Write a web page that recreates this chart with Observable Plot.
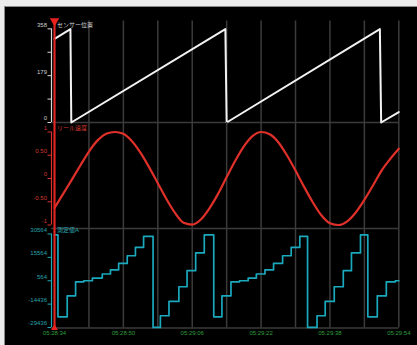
<!DOCTYPE html>
<html><head><meta charset="utf-8">
<script src="https://cdn.jsdelivr.net/npm/d3@7"></script>
<script src="https://cdn.jsdelivr.net/npm/@observablehq/plot@0.6"></script>
<style>
html,body{margin:0;padding:0;background:#ececec;}
#wrap{position:relative;width:417px;height:345px;overflow:hidden;}
#bg{position:absolute;left:4px;top:6px;right:0;bottom:0;background:#000;border-left:1px solid #8a8a8a;border-top:1px solid #8a8a8a;}
#wrap svg{position:absolute;left:0;top:0;}
</style></head><body><div id="wrap"><div id="bg"></div></div>
<script>
// ---- data (seconds from 05:28:34) ----
const gridTimes = [0, 8, 16, 24, 32, 40, 48, 56, 64, 72, 80];
const timeTicks = [0, 16, 32, 48, 64, 80];
const timeLabels = ["05:28:34", "05:28:50", "05:29:06", "05:29:22", "05:29:38", "05:29:54"];

const titles = ["センサー位置", "リール速度", "測定値A"];

// panel 1: sensor position
const sensorT = [0, 3.7, 3.9, 39.7, 40.0, 75.6, 75.9, 80];
const sensorV = [320, 357, 0, 357, 0, 357, 0, 40];
const sensorTicks = [0, 89.5, 179, 268.5, 358];
const sensorTickLabels = ["0", "", "179", "", "358"];

// panel 2: reel speed
const reelT = [0, 2, 4, 6, 8, 10, 12, 14, 16, 18, 20, 22, 24, 26, 28, 30, 32, 34, 36, 38, 40,
  42, 44, 46, 48, 50, 52, 54, 56, 58, 60, 62, 64, 66, 68, 70, 72, 74, 76, 78, 80];
const reelV = [-0.63, -0.33, -0.03, 0.28, 0.58, 0.82, 0.96, 1.0, 0.96, 0.80, 0.55, 0.24, -0.10,
  -0.44, -0.74, -0.95, -0.99, -0.88, -0.64, -0.33, 0.03, 0.38, 0.69, 0.91, 1.0, 0.95, 0.78, 0.50,
  0.17, -0.18, -0.51, -0.79, -0.96, -1.0, -0.92, -0.73, -0.46, -0.15, 0.17, 0.42, 0.64];
const reelTicks = [-1, -0.5, 0, 0.5, 1];
const reelTickLabels = ["-1", "-0.50", "0", "0.50", "1"];

// panel 3: measured value A (step)
const measT = [0, 0.8, 2.95, 4.9, 6.8, 8.8, 11.1, 13.0, 14.9, 16.9, 18.8, 20.7, 22.9, 24.6, 26.6,
  28.9, 30.8, 32.8, 34.8, 37.0, 38.9, 41.0, 43.0, 45.0, 46.9, 48.9, 50.9, 53.0, 55.0, 57.0, 58.8,
  61.0, 62.9, 65.0, 67.1, 69.0, 71.1, 72.8, 75.0, 77.1, 79.2, 80];
const measV = [30000, -22600, -9100, -100, 560, 2300, 4900, 7600, 11700, 16600, 22000, 29000,
  -29400, -21900, -12700, -3300, 7000, 18400, 30000, -22600, -9100, -100, 560, 2300, 4900, 7600,
  11700, 16600, 22000, 29000, -29400, -21900, -12700, -3300, 7000, 18400, 30000, -22600, -9100,
  -100, 560, 560];
const measTicks = [-29436, -14436, 564, 15564, 30564];
const measTickLabels = ["-29436", "-14436", "564", "15564", "30564"];

// ---- build ----
const W = 417, H = 345;
const xDomain = [-0.7, 80];
const gridColor = "#3b3b3b";
const cursorColor = "#e8231f";
const font = "'Liberation Sans','Noto Sans CJK JP',sans-serif";
const zip = (T, V) => T.map((t, i) => ({t, v: V[i]}));

function panel({top, bottom, domain, ticks, tickLabels, color, labelColor, title, marks}) {
  const lab = new Map(ticks.map((d, i) => [d, tickLabels[i]]));
  return Plot.plot({
    width: W, height: H,
    marginLeft: 51, marginRight: 18.7, marginTop: top, marginBottom: H - bottom,
    x: {domain: xDomain, axis: null, label: null},
    y: {domain, axis: null, label: null},
    style: {background: "transparent", overflow: "visible", fontFamily: font, fontSize: "6px"},
    marks: [
      Plot.ruleX(gridTimes, {stroke: gridColor, strokeWidth: 1.5}),
      Plot.ruleY([domain[0]], {stroke: gridColor, strokeWidth: 1.5}),
      ...marks,
      Plot.ruleX([xDomain[0]], {y1: d3.min(ticks), y2: d3.max(ticks), stroke: color, strokeWidth: 1.2}),
      Plot.axisY(ticks, {anchor: "left", label: null, tickSize: 3.5, tickFormat: () => "", stroke: color}),
      Plot.axisY(ticks, {anchor: "left", label: null, tickSize: 0, tickPadding: 4.5, dy: -4, tickFormat: d => lab.get(d), fill: labelColor, fontSize: 6}),
      Plot.ruleX([0], {stroke: cursorColor, strokeWidth: 2}),
      Plot.text([title], {x: () => 0, y: () => d3.max(ticks), text: d => d, textAnchor: "start", dx: 2.5, dy: -4, fill: labelColor, fontSize: 6})
    ]
  });
}

const wrap = document.getElementById("wrap");

wrap.appendChild(panel({
  top: 20.5, bottom: 122, domain: [0, 388],
  ticks: sensorTicks, tickLabels: sensorTickLabels, color: "#d8d8d8", labelColor: "#cfcfcf", title: titles[0],
  marks: [
    Plot.line(zip(sensorT, sensorV), {x: "t", y: "v", stroke: "#f2f2f2", strokeWidth: 2}),
    Plot.dot([0], {x: d => d, frameAnchor: "top", symbol: "triangle", rotate: 180, r: 3.5, fill: cursorColor})
  ]
}));

wrap.appendChild(panel({
  top: 122, bottom: 228, domain: [-1.075, 1.204],
  ticks: reelTicks, tickLabels: reelTickLabels, color: "#d8302a", labelColor: "#d23a30", title: titles[1],
  marks: [
    Plot.line(zip(reelT, reelV), {x: "t", y: "v", stroke: "#e0302a", strokeWidth: 2.2, curve: "monotone-x"})
  ]
}));

const p3 = panel({
  top: 228, bottom: 327.5, domain: [-29757, 34093],
  ticks: measTicks, tickLabels: measTickLabels, color: "#1ea8b8", labelColor: "#27a3ad", title: titles[2],
  marks: [
    Plot.line(zip(measT, measV), {x: "t", y: "v", curve: "step-after", stroke: "#1aa9bd", strokeWidth: 1.7}),
    Plot.dot([0], {x: d => d, frameAnchor: "bottom", symbol: "triangle", r: 2.5, fill: cursorColor}),
    Plot.axisX(timeTicks, {anchor: "bottom", label: null, tickSize: 0, tickPadding: 3,
      tickFormat: d => timeLabels[timeTicks.indexOf(d)], fill: "#2f9e3e", fontSize: 6})
  ]
});
wrap.appendChild(p3);
</script>
</body></html>
